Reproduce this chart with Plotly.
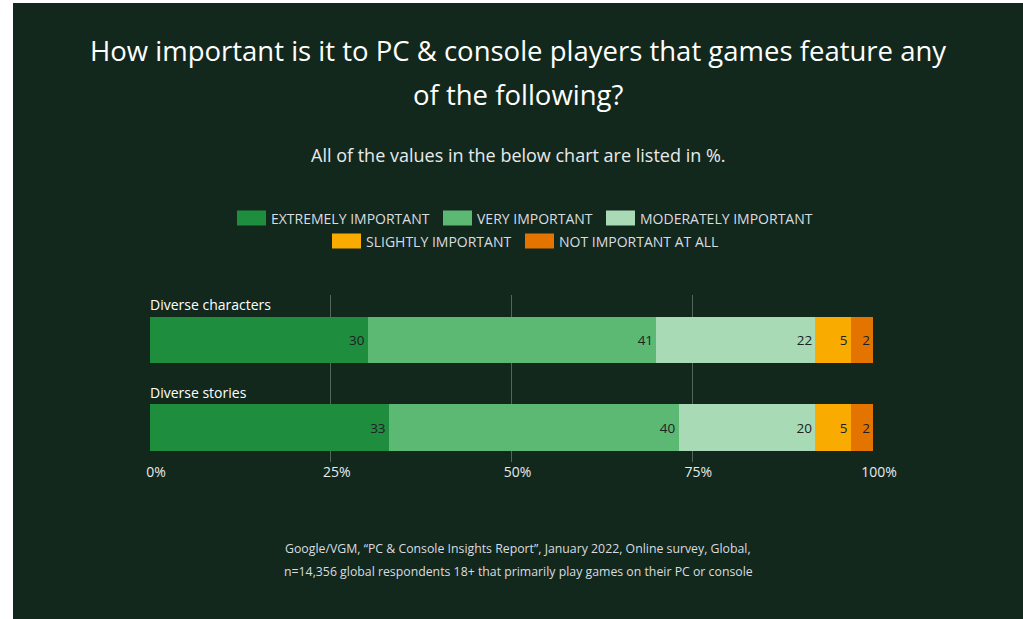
import plotly.graph_objects as go

categories = ["Diverse characters", "Diverse stories"]
series_names = ["EXTREMELY IMPORTANT", "VERY IMPORTANT", "MODERATELY IMPORTANT",
                "SLIGHTLY IMPORTANT", "NOT IMPORTANT AT ALL"]
# bar lengths as drawn in the picture (%)
extremely = [30.1, 33.0]
very = [39.9, 40.1]
moderately = [22.0, 18.9]
slightly = [4.9, 4.9]
not_at_all = [3.1, 3.1]
# value labels printed on the bars
extremely_lbl = [30, 33]
very_lbl = [41, 40]
moderately_lbl = [22, 20]
slightly_lbl = [5, 5]
not_at_all_lbl = [2, 2]

values = [extremely, very, moderately, slightly, not_at_all]
labels = [extremely_lbl, very_lbl, moderately_lbl, slightly_lbl, not_at_all_lbl]
colors = ["#1e8e3e", "#5bb974", "#a8dab5", "#f9ab00", "#e37400"]
tick_vals = [0, 25, 50, 75, 100]
tick_text = ["0%", "25%", "50%", "75%", "100%"]

BG = "#12281c"
FONT = "Open Sans"
W, H = 1023, 619
L, R, T, B = 150, 150, 295, 157
PW, PH = W - L - R, H - T - B


def px_x(px):
    return (px - L) / PW


def px_y(py):
    return (H - B - py) / PH


fig = go.Figure()
for name, vals, lbls, col in zip(series_names, values, labels, colors):
    fig.add_trace(go.Bar(
        y=categories, x=vals, name=name, orientation="h",
        marker=dict(color=col, line=dict(width=0)),
        text=[str(v) for v in lbls], textposition="inside",
        insidetextanchor="end", textangle=0, constraintext="none",
        textfont=dict(color="#202124", size=13.5, family=FONT),
        width=0.53, showlegend=False, hoverinfo="skip",
    ))

for cat in categories:
    fig.add_annotation(x=0, xref="x", y=cat, yref="y", text=cat, showarrow=False,
                       xanchor="left", yanchor="middle", yshift=35, xshift=-2,
                       font=dict(color="white", size=14, family=FONT))

# title (two lines)
title_lines = ["How important is it to PC &amp; console players that games feature any",
               "of the following?"]
for line, py in zip(title_lines, [50, 95]):
    fig.add_annotation(text=line, xref="paper", yref="paper", x=px_x(518), y=px_y(py),
                       showarrow=False, xanchor="center", yanchor="middle",
                       font=dict(color="white", size=27.5, family=FONT))

fig.add_annotation(text="All of the values in the below chart are listed in %.",
                   xref="paper", yref="paper", x=px_x(518), y=px_y(155),
                   showarrow=False, xanchor="center", yanchor="middle",
                   font=dict(color="#e8eaed", size=18, family=FONT))
fig.add_annotation(text="Google/VGM, \u201cPC &amp; Console Insights Report\u201d, January 2022, Online survey, Global,",
                   xref="paper", yref="paper", x=px_x(518), y=px_y(548),
                   showarrow=False, xanchor="center", yanchor="middle",
                   font=dict(color="#dadce0", size=12.3, family=FONT))
fig.add_annotation(text="n=14,356 global respondents 18+ that primarily play games on their PC or console",
                   xref="paper", yref="paper", x=px_x(518), y=px_y(571),
                   showarrow=False, xanchor="center", yanchor="middle",
                   font=dict(color="#dadce0", size=12.3, family=FONT))

# legend (two centred rows with wide swatches)
legend_pos = [(237, 218), (443, 218), (606, 218), (332, 241), (525, 241)]
for name, col, (lx, ly) in zip(series_names, colors, legend_pos):
    fig.add_shape(type="rect", xref="paper", yref="paper",
                  x0=px_x(lx), x1=px_x(lx + 29), y0=px_y(ly - 7.5), y1=px_y(ly + 7.5),
                  fillcolor=col, line=dict(width=0), layer="above")
    fig.add_annotation(text=name, xref="paper", yref="paper", x=px_x(lx + 33), y=px_y(ly),
                       showarrow=False, xanchor="left", yanchor="middle", xshift=-1,
                       font=dict(color="#dadce0", size=14, family=FONT))

# white frame strips at the left and top of the picture
fig.add_shape(type="rect", xref="paper", yref="paper",
              x0=px_x(0), x1=px_x(13), y0=px_y(H), y1=px_y(0),
              fillcolor="white", line=dict(width=0), layer="below")
fig.add_shape(type="rect", xref="paper", yref="paper",
              x0=px_x(0), x1=px_x(W), y0=px_y(3), y1=px_y(0),
              fillcolor="white", line=dict(width=0), layer="below")

fig.update_layout(
    width=W, height=H,
    barmode="stack",
    paper_bgcolor=BG, plot_bgcolor="rgba(0,0,0,0)",
    margin=dict(l=L, r=R, t=T, b=B, autoexpand=False),
    font=dict(family=FONT, color="#e8eaed"),
    showlegend=False,
    xaxis=dict(range=[0, 100], tickvals=tick_vals, ticktext=tick_text,
               showgrid=True, gridcolor="#56655b", gridwidth=1, zeroline=False,
               showline=False, ticks="", ticklabelshift=6,
               tickfont=dict(color="#e8eaed", size=14, family=FONT), fixedrange=True),
    yaxis=dict(range=[1.394, -0.514], showticklabels=False, showgrid=False,
               zeroline=False, fixedrange=True),
)

fig.write_html("out.html")
